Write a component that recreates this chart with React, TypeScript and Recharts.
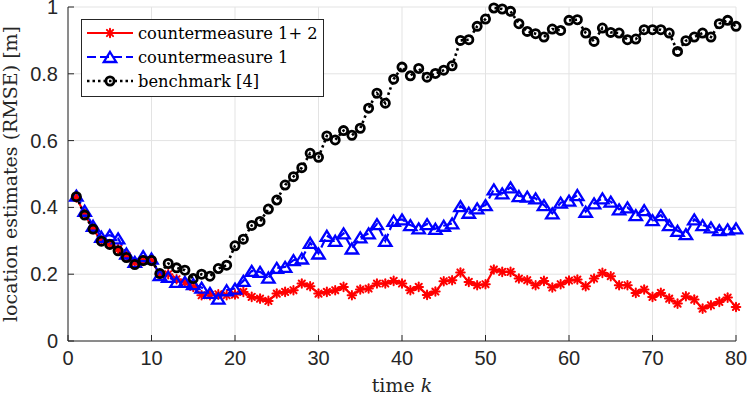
import React from 'react';
import { LineChart, Line, XAxis, YAxis, CartesianGrid, Legend } from 'recharts';

const timeK = [1, 2, 3, 4, 5, 6, 7, 8, 9, 10, 11, 12, 13, 14, 15, 16, 17, 18, 19, 20,
  21, 22, 23, 24, 25, 26, 27, 28, 29, 30, 31, 32, 33, 34, 35, 36, 37, 38, 39, 40,
  41, 42, 43, 44, 45, 46, 47, 48, 49, 50, 51, 52, 53, 54, 55, 56, 57, 58, 59, 60,
  61, 62, 63, 64, 65, 66, 67, 68, 69, 70, 71, 72, 73, 74, 75, 76, 77, 78, 79, 80];

const countermeasure12 = [0.43, 0.38, 0.335, 0.3, 0.29, 0.275, 0.255, 0.235, 0.24, 0.24,
  0.2, 0.2, 0.185, 0.175, 0.162, 0.137, 0.137, 0.14, 0.137, 0.139,
  0.147, 0.132, 0.127, 0.12, 0.142, 0.147, 0.152, 0.172, 0.164, 0.142,
  0.147, 0.152, 0.162, 0.137, 0.154, 0.157, 0.172, 0.172, 0.18, 0.172,
  0.152, 0.162, 0.138, 0.148, 0.179, 0.182, 0.205, 0.177, 0.167, 0.17,
  0.214, 0.207, 0.207, 0.187, 0.182, 0.167, 0.18, 0.16, 0.17, 0.181,
  0.184, 0.164, 0.187, 0.204, 0.194, 0.167, 0.167, 0.144, 0.154, 0.132,
  0.144, 0.127, 0.112, 0.134, 0.124, 0.097, 0.107, 0.117, 0.13, 0.102];

const countermeasure1 = [0.435, 0.39, 0.345, 0.312, 0.317, 0.307, 0.262, 0.237, 0.254, 0.247,
  0.197, 0.192, 0.177, 0.177, 0.17, 0.16, 0.144, 0.127, 0.152, 0.157,
  0.18, 0.21, 0.207, 0.19, 0.219, 0.222, 0.242, 0.247, 0.294, 0.262,
  0.315, 0.3, 0.322, 0.277, 0.31, 0.322, 0.35, 0.3, 0.36, 0.364,
  0.347, 0.337, 0.35, 0.336, 0.345, 0.352, 0.404, 0.384, 0.397, 0.407,
  0.454, 0.442, 0.46, 0.434, 0.432, 0.427, 0.407, 0.382, 0.414, 0.42,
  0.437, 0.387, 0.412, 0.427, 0.417, 0.394, 0.4, 0.377, 0.392, 0.362,
  0.377, 0.347, 0.33, 0.32, 0.364, 0.347, 0.34, 0.332, 0.334, 0.337];

const benchmark = [0.432, 0.377, 0.335, 0.299, 0.289, 0.27, 0.25, 0.229, 0.241, 0.241,
  0.202, 0.232, 0.219, 0.212, 0.187, 0.2, 0.194, 0.217, 0.227, 0.285,
  0.305, 0.346, 0.358, 0.395, 0.422, 0.467, 0.492, 0.519, 0.562, 0.55,
  0.614, 0.602, 0.63, 0.616, 0.637, 0.697, 0.742, 0.712, 0.784, 0.82,
  0.794, 0.816, 0.79, 0.801, 0.811, 0.824, 0.9, 0.902, 0.942, 0.964,
  0.997, 0.994, 0.987, 0.95, 0.927, 0.92, 0.91, 0.934, 0.93, 0.96,
  0.962, 0.922, 0.897, 0.937, 0.924, 0.922, 0.902, 0.904, 0.932, 0.932,
  0.932, 0.922, 0.867, 0.899, 0.91, 0.922, 0.91, 0.95, 0.96, 0.942];

const xTicks = [0, 10, 20, 30, 40, 50, 60, 70, 80];
const yTicks = [0, 0.2, 0.4, 0.6, 0.8, 1];
const yTickLabels = ['0', '0.2', '0.4', '0.6', '0.8', '1'];
const seriesNames = ['countermeasure 1+ 2', 'countermeasure 1', 'benchmark [4]'];
const xLabelText = 'time ';
const xLabelVar = 'k';
const yLabelText = 'location estimates (RMSE) [m]';

const data = timeK.map((k, i) => ({
  k,
  cm12: countermeasure12[i],
  cm1: countermeasure1[i],
  bench: benchmark[i],
}));

const AXIS = '#262626';
const GRID = '#e3e3e3';
const RED = '#ff0000';
const BLUE = '#0000ff';
const BLACK = '#000000';
const TICK_FONT = '"Liberation Sans", Arial, sans-serif';
const SERIF = '"DejaVu Serif", serif';

const Asterisk = ({ cx, cy }: any) => {
  if (cx == null || cy == null) return null;
  const r = 4.3;
  const d = r * 0.72;
  return (
    <g stroke={RED} strokeWidth={2} strokeLinecap="round">
      <line x1={cx - r} y1={cy} x2={cx + r} y2={cy} />
      <line x1={cx} y1={cy - r} x2={cx} y2={cy + r} />
      <line x1={cx - d} y1={cy - d} x2={cx + d} y2={cy + d} />
      <line x1={cx - d} y1={cy + d} x2={cx + d} y2={cy - d} />
    </g>
  );
};

const Triangle = ({ cx, cy }: any) => {
  if (cx == null || cy == null) return null;
  const h = 5;
  const w = 6.2;
  return (
    <path
      d={`M${cx},${cy - h} L${cx + w},${cy + h} L${cx - w},${cy + h} Z`}
      fill="none"
      stroke={BLUE}
      strokeWidth={2.3}
      strokeLinejoin="miter"
    />
  );
};

const Ring = ({ cx, cy }: any) => {
  if (cx == null || cy == null) return null;
  return <circle cx={cx} cy={cy} r={4.1} fill="none" stroke={BLACK} strokeWidth={2.8} />;
};

const BottomTick = ({ x, y, payload }: any) => (
  <g>
    <line x1={x} y1={y} x2={x} y2={y - 6} stroke={AXIS} strokeWidth={1} />
    <text x={x} y={y + 24} textAnchor="middle" fontFamily={TICK_FONT} fontSize={20} fill={AXIS}>
      {payload.value}
    </text>
  </g>
);

const TopTick = ({ x, y }: any) => (
  <line x1={x} y1={y} x2={x} y2={y + 6} stroke={AXIS} strokeWidth={1} />
);

const LeftTick = ({ x, y, payload }: any) => (
  <g>
    <line x1={x} y1={y} x2={x + 6} y2={y} stroke={AXIS} strokeWidth={1} />
    <text x={x - 10} y={y + 7} textAnchor="end" fontFamily={TICK_FONT} fontSize={20} fill={AXIS}>
      {yTickLabels[yTicks.indexOf(payload.value)] ?? String(payload.value)}
    </text>
  </g>
);

const RightTick = ({ x, y }: any) => (
  <line x1={x} y1={y} x2={x - 6} y2={y} stroke={AXIS} strokeWidth={1} />
);

const XLabel = (props: any) => {
  const vb = props.viewBox || { x: 68, y: 341, width: 668, height: 57 };
  return (
    <text x={vb.x + vb.width / 2} y={vb.y + 51} textAnchor="middle" fontFamily={SERIF} fontSize={19} fill={AXIS}>
      <tspan>{xLabelText}</tspan>
      <tspan fontStyle="italic">{xLabelVar}</tspan>
    </text>
  );
};

const YLabel = (props: any) => {
  const vb = props.viewBox || { x: 0, y: 7, width: 68, height: 334 };
  const cx = vb.x + 17;
  const cy = vb.y + vb.height / 2;
  return (
    <text
      x={cx}
      y={cy}
      transform={`rotate(-90, ${cx}, ${cy})`}
      textAnchor="middle"
      fontFamily={SERIF}
      fontSize={19}
      fill={AXIS}
    >
      {yLabelText}
    </text>
  );
};

const legendRows = [
  { name: seriesNames[0], color: RED, dash: undefined as string | undefined, width: 2.2, Marker: Asterisk },
  { name: seriesNames[1], color: BLUE, dash: '9 4', width: 2.2, Marker: Triangle },
  { name: seriesNames[2], color: BLACK, dash: '2.5 3', width: 2.6, Marker: Ring },
];

const LegendBox = () => (
  <svg width={243} height={78} style={{ display: 'block' }}>
    <rect x={0.5} y={0.5} width={242} height={77} fill="#ffffff" stroke={AXIS} strokeWidth={1} />
    {legendRows.map((row, i) => {
      const cy = 14 + i * 24;
      const M = row.Marker;
      return (
        <g key={row.name}>
          <line x1={6} y1={cy} x2={52} y2={cy} stroke={row.color} strokeWidth={row.width} strokeDasharray={row.dash} />
          <M cx={29} cy={cy} />
          <text x={57} y={cy + 6} fontFamily={SERIF} fontSize={16.3} fill="#000">
            {row.name}
          </text>
        </g>
      );
    })}
  </svg>
);

export default function App() {
  return (
    <div style={{ position: 'absolute', left: 0, top: 0, width: 747, height: 398, background: '#fff' }}>
      <LineChart width={747} height={398} data={data} margin={{ top: 7, right: 11, bottom: 0, left: 0 }}>
        <CartesianGrid xAxisId="bottom" yAxisId="left" stroke={GRID} strokeWidth={1} />
        <XAxis
          xAxisId="bottom"
          dataKey="k"
          type="number"
          domain={[0, 80]}
          ticks={xTicks}
          interval={0}
          height={57}
          tickSize={0}
          tickMargin={0}
          tickLine={false}
          axisLine={{ stroke: AXIS, strokeWidth: 1 }}
          tick={<BottomTick />}
          label={<XLabel />}
        />
        <XAxis
          xAxisId="top"
          orientation="top"
          dataKey="k"
          type="number"
          domain={[0, 80]}
          ticks={xTicks}
          interval={0}
          height={0}
          tickSize={0}
          tickMargin={0}
          tickLine={false}
          axisLine={{ stroke: AXIS, strokeWidth: 1 }}
          tick={<TopTick />}
        />
        <YAxis
          yAxisId="left"
          type="number"
          domain={[0, 1]}
          ticks={yTicks}
          interval={0}
          width={68}
          tickSize={0}
          tickMargin={0}
          tickLine={false}
          axisLine={{ stroke: AXIS, strokeWidth: 1 }}
          tick={<LeftTick />}
          label={<YLabel />}
        />
        <YAxis
          yAxisId="right"
          orientation="right"
          type="number"
          domain={[0, 1]}
          ticks={yTicks}
          interval={0}
          width={0}
          tickSize={0}
          tickMargin={0}
          tickLine={false}
          axisLine={{ stroke: AXIS, strokeWidth: 1 }}
          tick={<RightTick />}
        />
        <Legend
          layout="vertical"
          align="center"
          verticalAlign="middle"
          content={() => <LegendBox />}
          wrapperStyle={{ left: 81, top: 19, width: 243, height: 78 }}
        />
        <Line
          xAxisId="bottom"
          yAxisId="left"
          type="linear"
          dataKey="cm12"
          name={seriesNames[0]}
          stroke={RED}
          strokeWidth={2.2}
          dot={(p: any) => <Asterisk key={`a${p.index}`} cx={p.cx} cy={p.cy} />}
          activeDot={false}
          isAnimationActive={false}
        />
        <Line
          xAxisId="bottom"
          yAxisId="left"
          type="linear"
          dataKey="cm1"
          name={seriesNames[1]}
          stroke={BLUE}
          strokeWidth={2.2}
          strokeDasharray="9 4"
          dot={(p: any) => <Triangle key={`t${p.index}`} cx={p.cx} cy={p.cy} />}
          activeDot={false}
          isAnimationActive={false}
        />
        <Line
          xAxisId="bottom"
          yAxisId="left"
          type="linear"
          dataKey="bench"
          name={seriesNames[2]}
          stroke={BLACK}
          strokeWidth={2.6}
          strokeDasharray="2.5 3"
          dot={(p: any) => <Ring key={`r${p.index}`} cx={p.cx} cy={p.cy} />}
          activeDot={false}
          isAnimationActive={false}
        />
      </LineChart>
    </div>
  );
}
